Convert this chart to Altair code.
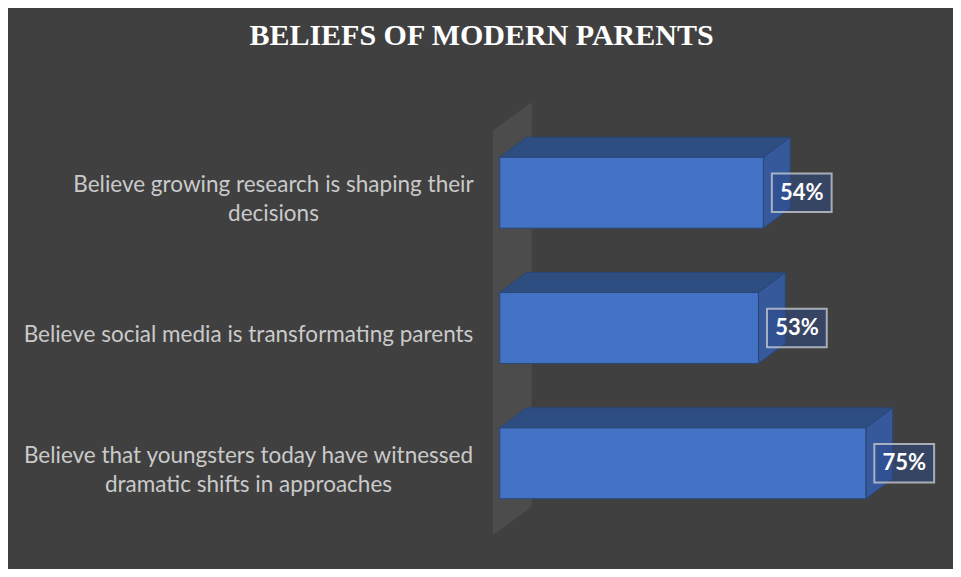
import json

import pandas as pd
import altair as alt

# ------------------------------------------------------------
# 1. Data
# ------------------------------------------------------------

# category labels, one list of lines per bar (top to bottom)
categories = [
    ["Believe growing research is shaping their", "decisions"],
    ["Believe social media is transformating parents"],
    ["Believe that youngsters today have witnessed", "dramatic shifts in approaches"],
]
values = [54, 53, 75]
value_labels = ["54%", "53%", "75%"]

# ------------------------------------------------------------
# 2. 3D look – constants in scale units (x: percent, y: rows)
# ------------------------------------------------------------

HALF = 0.262      # half height of a bar's front face
DX = 5.5          # bar depth along x
DY = 0.148        # bar depth along y
WALL_X = -1.43    # side wall, left edge
WALL_DX = 8.0     # side wall depth along x
WALL_DY = 0.21    # side wall depth along y
WALL_TOP = -0.46
WALL_BOTTOM = 2.53

rows = list(range(len(values)))

front_df = pd.DataFrame({"row": rows, "value": values, "label": value_labels})
front_df["y0"] = front_df["row"] - HALF
front_df["y1"] = front_df["row"] + HALF

top_pts, side_pts = [], []
for r, v in zip(rows, values):
    ft, bt = r - HALF, r - HALF - DY
    fb = r + HALF
    top_pts += [
        {"row": r, "x": 0, "y": ft, "y2": ft},
        {"row": r, "x": DX, "y": ft, "y2": bt},
        {"row": r, "x": v, "y": ft, "y2": bt},
        {"row": r, "x": v + DX, "y": bt, "y2": bt},
    ]
    side_pts += [
        {"row": r, "x": v, "y": fb, "y2": ft},
        {"row": r, "x": v + DX, "y": fb - DY, "y2": bt},
    ]
top_df = pd.DataFrame(top_pts)
side_df = pd.DataFrame(side_pts)

wall_df = pd.DataFrame([
    {"x": WALL_X, "y": WALL_BOTTOM, "y2": WALL_TOP},
    {"x": WALL_X + WALL_DX, "y": WALL_BOTTOM - WALL_DY, "y2": WALL_TOP - WALL_DY},
])

# ------------------------------------------------------------
# 3. Scales & axes
# ------------------------------------------------------------

x_scale = alt.Scale(domain=[-2, 90], nice=False, zero=False)
y_scale = alt.Scale(domain=[-0.7, 2.7], reverse=True, nice=False, zero=False)

label_expr = " : ".join(
    f"datum.value == {i} ? {json.dumps(lines)}" for i, lines in enumerate(categories[:-1])
) + f" : {json.dumps(categories[-1])}"

LINE_H = 28.5


def cat_axis(i, pad):
    # one axis per category so each gets its own centre and vertical shift
    n_lines = len(categories[i])
    return alt.Axis(
        values=[i],
        orient="left",
        labelExpr=label_expr,
        labelAlign="center",
        labelBaseline="middle",
        labelFont="Lato",
        labelFontSize=22.5,
        labelColor="#cacaca",
        labelLineHeight=LINE_H,
        labelLimit=0,
        labelOffset=6.5 - (n_lines - 1) * LINE_H / 2,
        labelPadding=pad,
        labelOverlap=False,
        domain=False,
        grid=False,
        ticks=False,
        tickSize=0,
        title=None,
    )


BAR_STROKE = "#2A4677"

# ------------------------------------------------------------
# 4. Layers
# ------------------------------------------------------------

wall = alt.Chart(wall_df).mark_area(fill="#4c4c4c").encode(
    x=alt.X("x:Q", scale=x_scale, axis=None),
    y=alt.Y("y:Q", scale=y_scale, axis=None),
    y2="y2:Q",
)

tops = alt.Chart(top_df).mark_area(
    fill="#2E4D80", stroke=BAR_STROKE, strokeWidth=1
).encode(
    x=alt.X("x:Q", scale=x_scale, axis=None),
    y=alt.Y("y:Q", scale=y_scale, axis=cat_axis(1, 242)),
    y2="y2:Q",
    detail="row:N",
)

sides = alt.Chart(side_df).mark_area(
    fill="#35599A", stroke=BAR_STROKE, strokeWidth=1
).encode(
    x=alt.X("x:Q", scale=x_scale, axis=None),
    y=alt.Y("y:Q", scale=y_scale, axis=cat_axis(2, 242)),
    y2="y2:Q",
    detail="row:N",
)

fronts = alt.Chart(front_df).mark_rect(
    fill="#4472C4", stroke=BAR_STROKE, strokeWidth=1
).encode(
    x=alt.X("zero:Q", scale=x_scale, axis=None),
    x2="value:Q",
    y=alt.Y("y0:Q", scale=y_scale, axis=cat_axis(0, 217)),
    y2="y1:Q",
).transform_calculate(zero="0")

boxes = alt.Chart(front_df).transform_calculate(
    bx0="datum.value + 1.75",
    bx1="datum.value + 14.0",
    by0="datum.row - 0.142",
    by1="datum.row + 0.142",
).mark_rect(
    fill="#2E4A8A", fillOpacity=0.5, stroke="#c4c8d0", strokeWidth=2, strokeOpacity=0.8
).encode(
    x=alt.X("bx0:Q", scale=x_scale, axis=None),
    x2="bx1:Q",
    y=alt.Y("by0:Q", scale=y_scale, axis=None),
    y2="by1:Q",
)

texts = alt.Chart(front_df).transform_calculate(
    tx="datum.value + 7.9",
).mark_text(
    font="Lato", fontSize=22, fontWeight="bold", color="white",
    align="center", baseline="middle",
).encode(
    x=alt.X("tx:Q", scale=x_scale, axis=None),
    y=alt.Y("row:Q", scale=y_scale, axis=None),
    text="label:N",
)

# ------------------------------------------------------------
# 5. Layout & export
# ------------------------------------------------------------

chart = (
    alt.layer(wall, tops, sides, fronts, boxes, texts)
    .resolve_axis(y="independent")
    .properties(
        width=449,
        height=460,
        title=alt.TitleParams(
            "BELIEFS OF MODERN PARENTS",
            font="Liberation Serif",
            fontSize=30,
            fontWeight="bold",
            color="white",
            anchor="middle",
            baseline="middle",
            dx=-233,
            offset=32,
        ),
        padding={"left": 482, "top": 90, "right": 14, "bottom": 11},
        autosize=alt.AutoSizeParams(type="none"),
    )
    .configure(background="#404040")
    .configure_view(stroke=None)
)

chart.save("out.html", embed_options={"renderer": "svg", "actions": False})
